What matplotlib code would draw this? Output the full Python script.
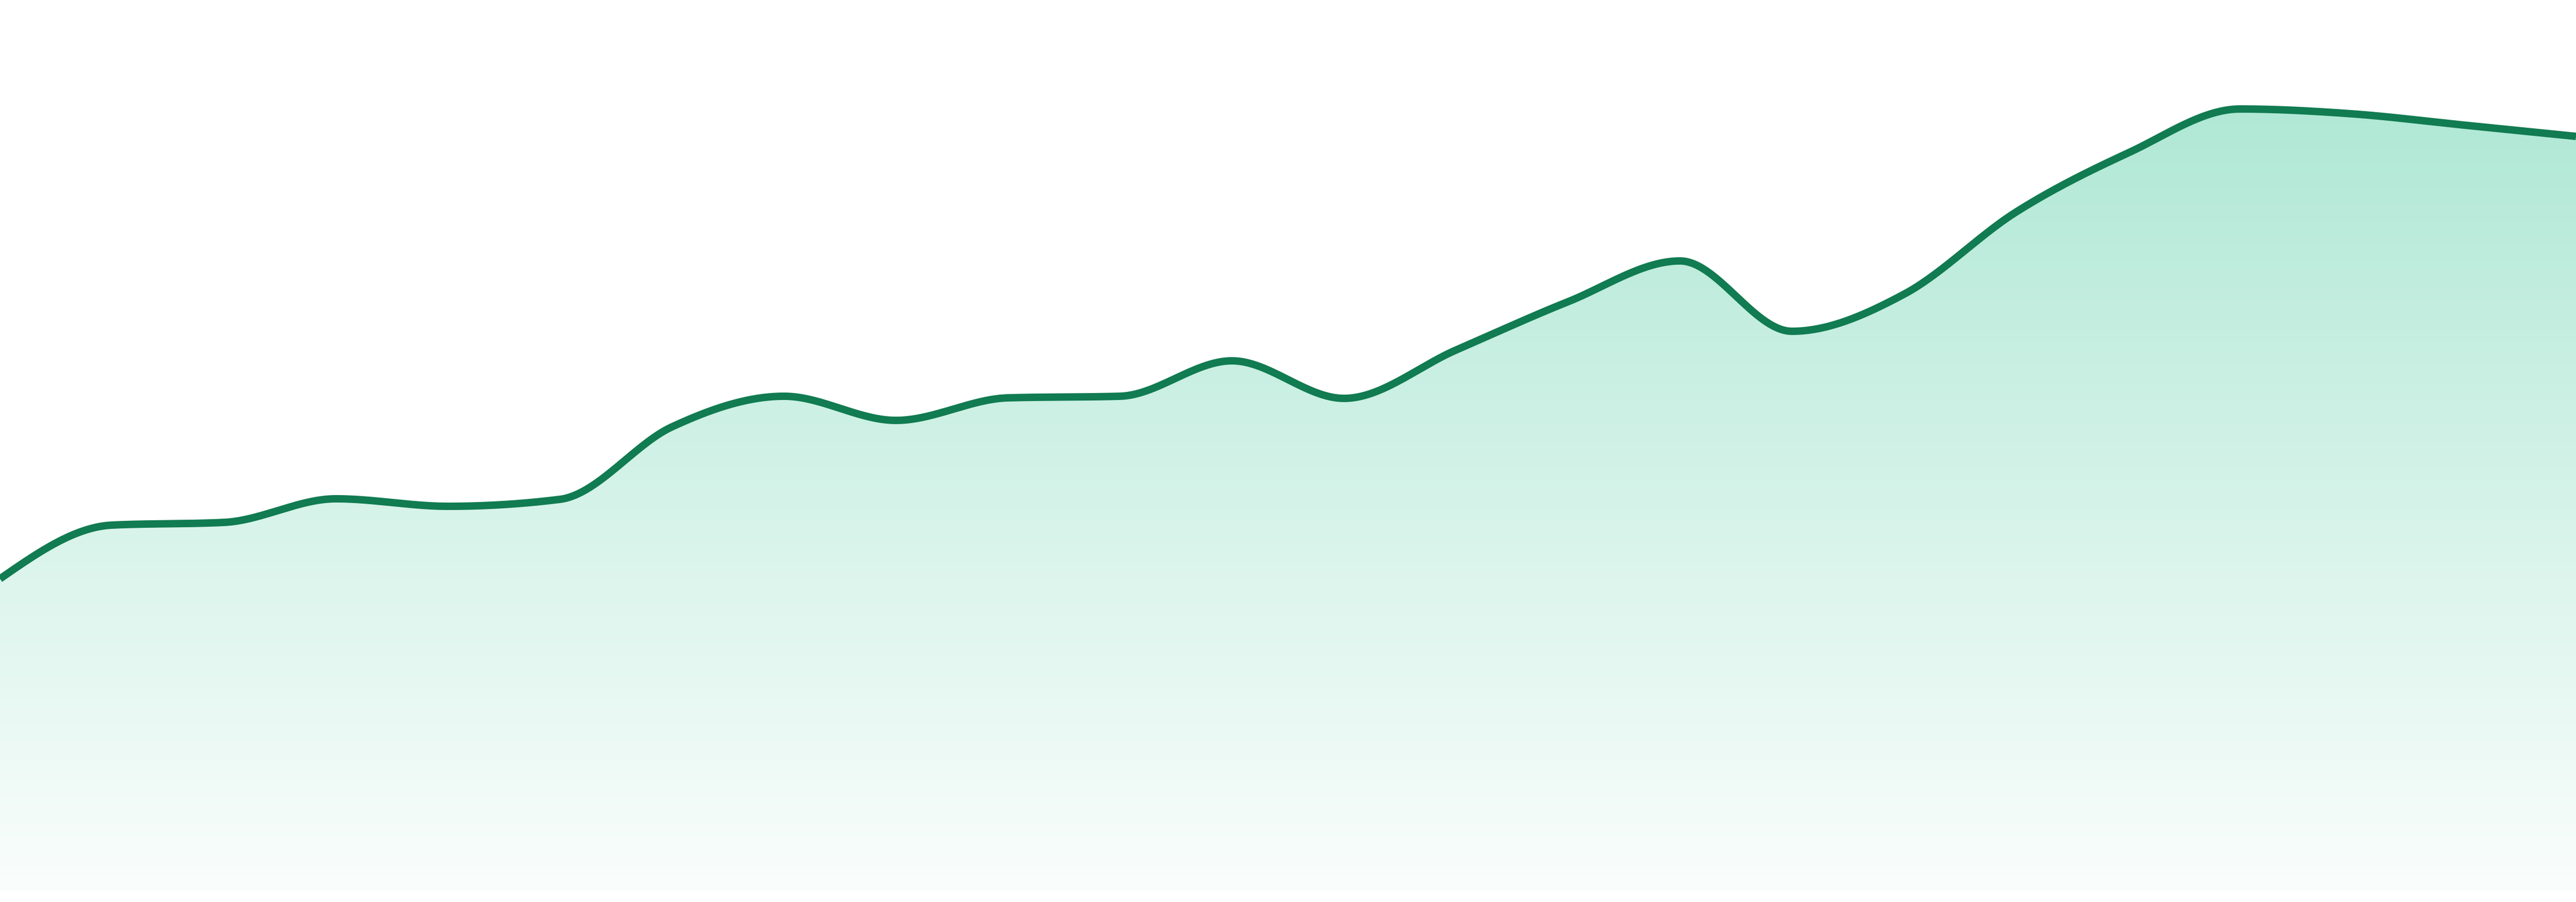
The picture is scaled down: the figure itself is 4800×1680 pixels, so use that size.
import matplotlib

matplotlib.use("Agg")

import matplotlib.pyplot as plt
import numpy as np
from matplotlib.patches import Polygon

# series (arbitrary units, 24 evenly spaced samples)
periods = np.arange(24)
values = [
    58.2, 68.2, 68.7, 73.1, 71.7, 73.0, 86.5, 92.2, 87.7, 91.9, 92.2, 98.8,
    91.8, 100.8, 109.8, 117.4, 104.3, 111.2, 126.5, 137.5, 145.7, 144.8, 142.7, 140.6,
]

LINE = "#117b51"
FILL_RGB = np.array([16, 185, 129]) / 255.0  # emerald


def _monotone_slopes(x, y):
    """Tangents like d3.curveMonotoneX."""
    h = np.diff(x)
    s = np.diff(y) / h
    t = np.zeros_like(y)
    for i in range(1, len(y) - 1):
        p = (s[i - 1] * h[i] + s[i] * h[i - 1]) / (h[i - 1] + h[i])
        t[i] = (np.sign(s[i - 1]) + np.sign(s[i])) * min(
            abs(s[i - 1]), abs(s[i]), 0.5 * abs(p)
        )
    t[0] = (3 * s[0] - t[1]) / 2
    t[-1] = (3 * s[-1] - t[-2]) / 2
    return t


def smooth(x, y, n=60):
    x = np.asarray(x, float)
    y = np.asarray(y, float)
    t = _monotone_slopes(x, y)
    xs, ys = [], []
    for i in range(len(x) - 1):
        h = x[i + 1] - x[i]
        u = np.linspace(0, 1, n, endpoint=False)
        h00 = 2 * u**3 - 3 * u**2 + 1
        h10 = u**3 - 2 * u**2 + u
        h01 = -2 * u**3 + 3 * u**2
        h11 = u**3 - u**2
        xs.append(x[i] + u * h)
        ys.append(h00 * y[i] + h10 * h * t[i] + h01 * y[i + 1] + h11 * h * t[i + 1])
    xs.append([x[-1]])
    ys.append([y[-1]])
    return np.concatenate(xs), np.concatenate(ys)


fig = plt.figure(figsize=(48, 16.8), dpi=100)
ax = fig.add_axes([0, 20 / 1680, 1, 1660 / 1680])
ax.set_xlim(periods[0], periods[-1])
ax.set_ylim(0, 166)
ax.axis("off")

xs, ys = smooth(periods, values)

# vertical gradient fill under the curve
top = max(values)
alpha = np.linspace(0.02, 0.33, 256)[:, None]
grad = np.empty((256, 1, 4))
grad[..., :3] = 1 - alpha[..., None] * (1 - FILL_RGB)
grad[..., 3] = 1
img = ax.imshow(
    grad,
    extent=[periods[0], periods[-1], 0, top],
    origin="lower",
    aspect="auto",
    interpolation="bilinear",
    zorder=1,
)
poly = Polygon(
    np.column_stack([np.r_[xs, xs[-1], xs[0]], np.r_[ys, 0, 0]]),
    closed=True,
    facecolor="none",
    edgecolor="none",
    transform=ax.transData,
)
ax.add_patch(poly)
img.set_clip_path(poly)

ax.plot(xs, ys, color=LINE, linewidth=10, solid_capstyle="butt", zorder=3)

fig.savefig("out.png", dpi=100, facecolor="white")
